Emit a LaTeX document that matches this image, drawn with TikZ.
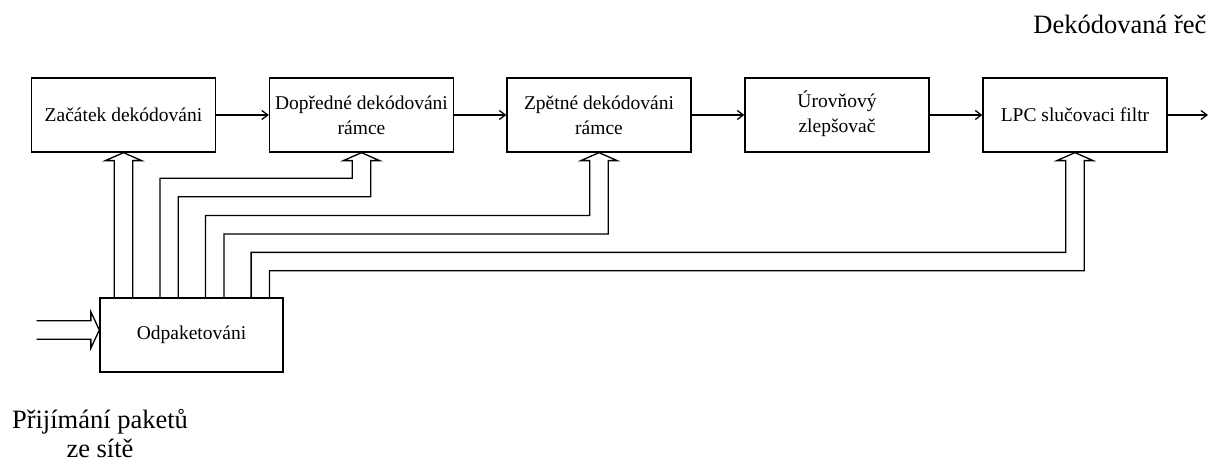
\documentclass[tikz,border=0pt]{standalone}
\usepackage{fontspec}
\setmainfont{Liberation Serif}
\usetikzlibrary{arrows.meta,calc}
\begin{document}
\begin{tikzpicture}[x=1pt,y=-1pt,
  line width=1.3pt,
  block/.style={draw, minimum width=184pt, minimum height=74pt, inner sep=0pt,
    align=center, font=\fontsize{19.5}{25}\selectfont},
  flow/.style={-{Straight Barb[length=6pt,width=9pt]}},
  bigtext/.style={font=\fontsize{26.5}{28.5}\selectfont, inner sep=0pt, align=center},
  hollow/.style={line join=miter},
]
\useasboundingbox (0,0) rectangle (1220,462);

% processing chain
\node[block] (b1) at (123.5,115) {Začátek dekódováni};
\node[block] (b2) at (361.5,115) {Dopředné dekódováni\\rámce};
\node[block] (b3) at (599,115) {Zpětné dekódováni\\rámce};
\node[block] (b4) at (837,115) {\raisebox{2.5pt}{\begin{tabular}{@{}c@{}}Úrovňový\\[0pt]zlepšovač\end{tabular}}};
\node[block] (b5) at (1075,115) {LPC slučovaci filtr};
\node[block, minimum width=183pt] (dep) at (191.5,335) {Odpaketováni};

\node[bigtext, anchor=base east] (outlbl) at (1207,33.3) {Dekódovaná řeč};
\node[bigtext, anchor=base] (inlbl) at (100,457) {Přijímání paketů\\ze sítě};

% single-line flow between blocks
\draw[flow] (b1.east) -- (b2.west);
\draw[flow] (b2.east) -- (b3.west);
\draw[flow] (b3.east) -- (b4.west);
\draw[flow] (b4.east) -- (b5.west);
\coordinate (out) at (1208,115);
\draw[flow] (b5.east) -- (out);

% hollow double arrow: packets in
\coordinate (in) at (36.7,330);
\coordinate (intip) at ($(dep.west)+(0,-5)$);
\draw[hollow] (in |- 0,320.8) -- ($(intip)+(-8.5,-9.2)$) -- ++(0,-9) -- (intip)
  -- ($(intip)+(-8.5,18.2)$) -- ++(0,-9) -- (in |- 0,339.2);

% hollow double arrow: depacketizer -> start block
\coordinate (p1l) at ($(b1.south)+(-9.2,0)$);
\coordinate (p1r) at ($(b1.south)+(9.2,0)$);
\draw[hollow] (p1l |- dep.north) -- ($(p1l)+(0,8)$) -- ++(-9,0) -- (b1.south)
  -- ($(p1r)+(9,8)$) -- ++(-9,0) -- (p1r |- dep.north);

% hollow double arrow: depacketizer -> forward decoding
\coordinate (p2l) at ($(b2.south)+(-9.2,0)$);
\coordinate (p2r) at ($(b2.south)+(9.2,0)$);
\draw[hollow] (159.9,298) -- (159.9,178.3) -- (p2l |- 0,178.3) -- ($(p2l)+(0,8)$) -- ++(-9,0) -- (b2.south)
  -- ($(p2r)+(9,8)$) -- ++(-9,0) -- (p2r |- 0,196.8) -- (178.3,196.8) -- (178.3,298);

% hollow double arrow: depacketizer -> backward decoding
\coordinate (p3l) at ($(b3.south)+(-9.2,0)$);
\coordinate (p3r) at ($(b3.south)+(9.2,0)$);
\draw[hollow] (205.5,298) -- (205.5,215.5) -- (p3l |- 0,215.5) -- ($(p3l)+(0,8)$) -- ++(-9,0) -- (b3.south)
  -- ($(p3r)+(9,8)$) -- ++(-9,0) -- (p3r |- 0,234) -- (223.9,234) -- (223.9,298);

% hollow double arrow: depacketizer -> LPC filter
\coordinate (p5l) at ($(b5.south)+(-9.2,0)$);
\coordinate (p5r) at ($(b5.south)+(9.2,0)$);
\draw[hollow] (251.1,298) -- (251.1,252.4) -- (p5l |- 0,252.4) -- ($(p5l)+(0,8)$) -- ++(-9,0) -- (b5.south)
  -- ($(p5r)+(9,8)$) -- ++(-9,0) -- (p5r |- 0,270.8) -- (269.5,270.8) -- (269.5,298);
\end{tikzpicture}
\end{document}
